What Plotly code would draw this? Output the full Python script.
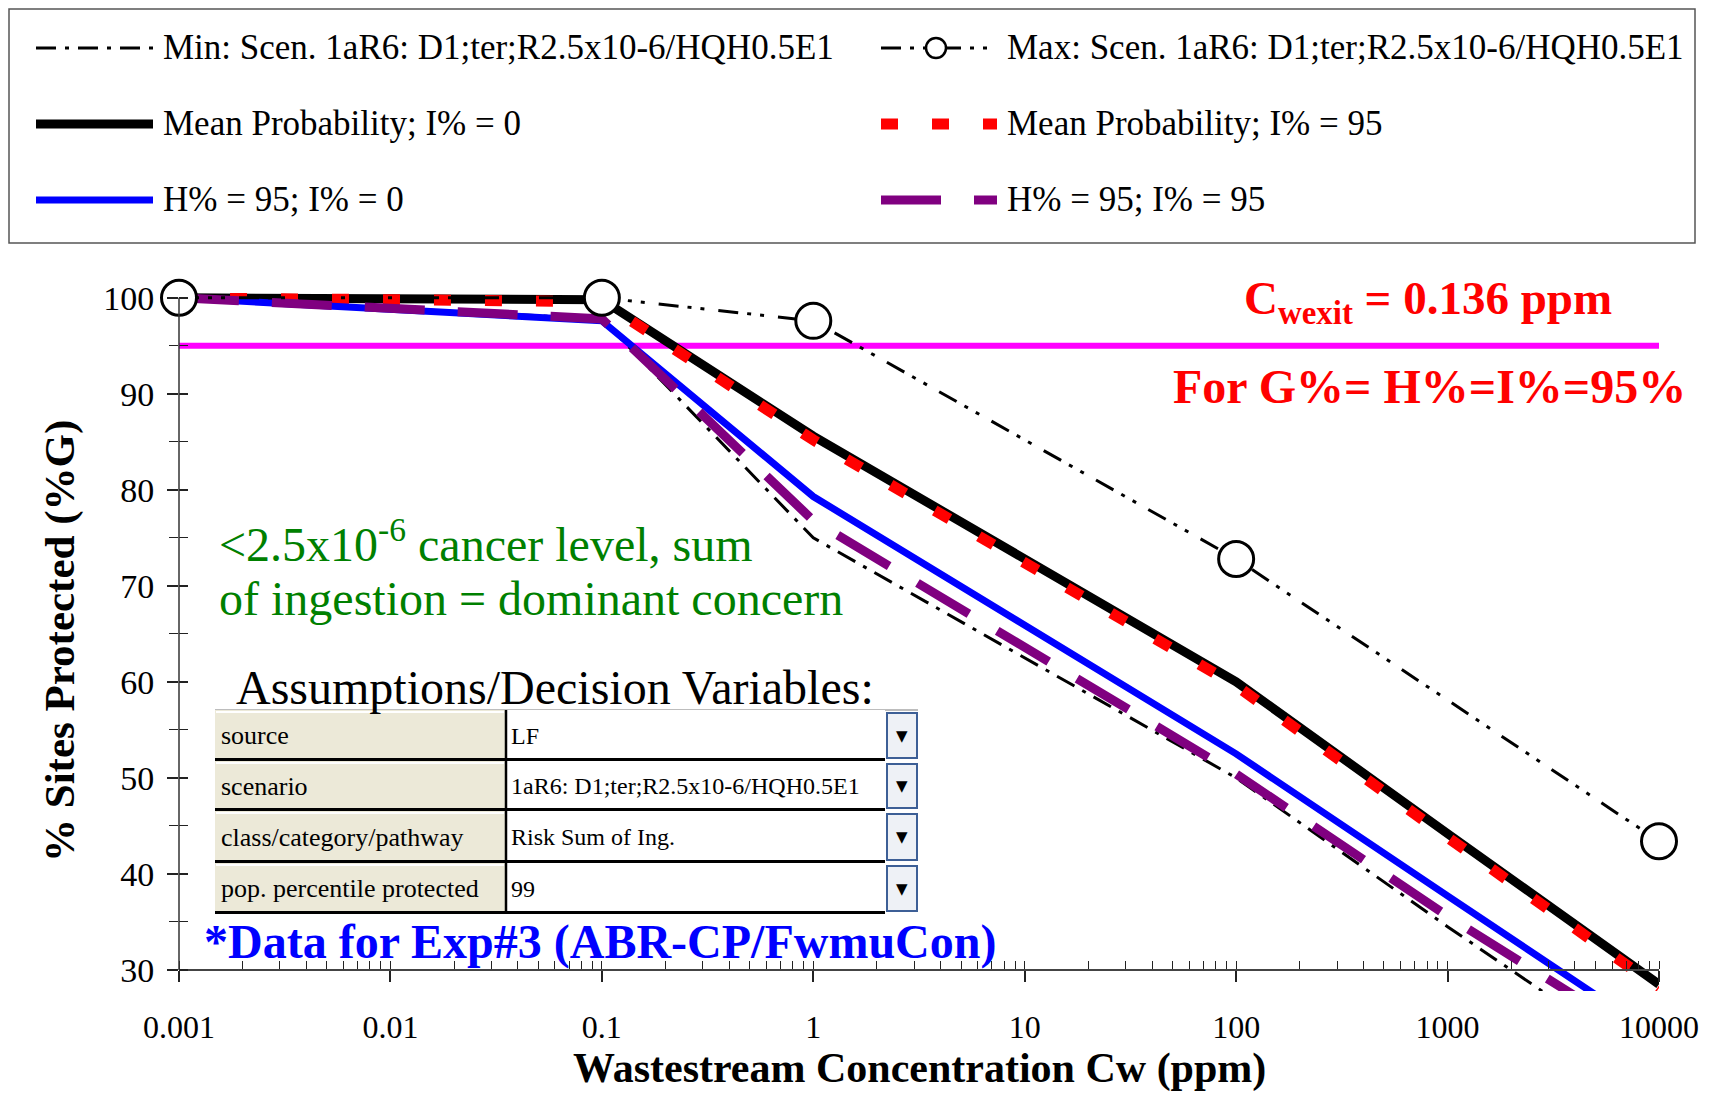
import plotly.graph_objects as go

# ---------------- data ----------------
conc = [0.001, 0.01, 0.1, 1, 10, 100, 1000, 10000]
min_scen = [100, 98.9, 97.8, 75.0, 62.5, 50.0, 34.5, 19.5]
mean_i0 = [100, 99.9, 99.8, 85.6, 72.8, 60.0, 44.2, 28.5]
mean_i95 = [100, 99.8, 99.6, 85.2, 72.4, 59.6, 43.8, 28.1]
h95_i0 = [100, 98.8, 97.6, 79.3, 65.9, 52.5, 37.7, 23.0]
h95_i95 = [100, 98.9, 97.8, 76.8, 63.6, 50.4, 35.6, 21.8]
max_conc = [0.001, 0.1, 1, 100, 10000]
max_scen = [100, 100, 97.6, 72.8, 43.4]
target_pct = 95

x_ticks = [0.001, 0.01, 0.1, 1, 10, 100, 1000, 10000]
x_tick_labels = ["0.001", "0.01", "0.1", "1", "10", "100", "1000", "10000"]
y_ticks = [30, 40, 50, 60, 70, 80, 90, 100]
y_minor = [35, 45, 55, 65, 75, 85, 95]

legend_names = [
    "Min: Scen. 1aR6: D1;ter;R2.5x10-6/HQH0.5E1",
    "Max: Scen. 1aR6: D1;ter;R2.5x10-6/HQH0.5E1",
    "Mean Probability; I% = 0",
    "Mean Probability; I% = 95",
    "H% = 95; I% = 0",
    "H% = 95; I% = 95",
]
table_labels = ["source", "scenario", "class/category/pathway", "pop. percentile protected"]
table_values = ["LF", "1aR6: D1;ter;R2.5x10-6/HQH0.5E1", "Risk Sum of Ing.", "99"]

# ---------------- geometry (page pixel coordinates) ----------------
OFF = 8                      # default body margin of the html page
W, H = 1717 - 2 * OFF, 1102 - 2 * OFF
PL, PR, PT, PB = 179, 1659, 293, 991
YMIN, YMAX = 27.8, 100.5
SERIF = "Liberation Serif"


def px(fx):
    return (fx - PL) / (PR - PL)


def py(fy):
    return (PB - fy) / (PB - PT)


STY = {
    "min": dict(color="black", width=3, dash="20px,9px,4px,9px"),
    "max": dict(color="black", width=3, dash="20px,9px,4px,9px,4px,14px"),
    "mean0": dict(color="black", width=9),
    "mean95": dict(color="#FF0000", width=11, dash="17px,34px"),
    "h0": dict(color="#0000FF", width=7),
    "h95": dict(color="#800080", width=9, dash="60px,33px"),
}

fig = go.Figure()
fig.add_trace(go.Scatter(x=[conc[0], conc[-1]], y=[target_pct, target_pct], mode="lines",
                         line=dict(color="#FF00FF", width=6), hoverinfo="skip"))
fig.add_trace(go.Scatter(x=conc, y=min_scen, mode="lines", line=STY["min"], name=legend_names[0]))
fig.add_trace(go.Scatter(x=conc, y=mean_i0, mode="lines", line=STY["mean0"], name=legend_names[2]))
fig.add_trace(go.Scatter(x=conc, y=mean_i95, mode="lines", line=STY["mean95"], name=legend_names[3]))
fig.add_trace(go.Scatter(x=conc, y=h95_i0, mode="lines", line=STY["h0"], name=legend_names[4]))
fig.add_trace(go.Scatter(x=conc, y=h95_i95, mode="lines", line=STY["h95"], name=legend_names[5]))
fig.add_trace(go.Scatter(x=max_conc, y=max_scen, mode="lines+markers", line=STY["max"],
                         marker=dict(symbol="circle", size=35, color="white",
                                     line=dict(color="black", width=3)),
                         cliponaxis=False, name=legend_names[1]))
fig.add_trace(go.Scatter(x=[None], y=[None], yaxis="y2", showlegend=False, hoverinfo="skip"))

shapes = []
ann = []

# y axis line (30..100)
shapes.append(dict(type="line", xref="paper", yref="y", x0=0, x1=0, y0=30, y1=100,
                   line=dict(color="#333333", width=1.5)))

# ---------------- legend box ----------------
shapes.append(dict(type="rect", xref="paper", yref="paper", x0=px(9), x1=px(1695), y0=py(9), y1=py(243),
                   line=dict(color="#555555", width=1.5), fillcolor="rgba(0,0,0,0)"))
rows = [48, 124, 200]
col_line = [(36, 153), (881, 997)]
col_text = [161, 1005]
leg_order = [("min", 0), ("max", 1), ("mean0", 2), ("mean95", 3), ("h0", 4), ("h95", 5)]
for k, (key, ni) in enumerate(leg_order):
    r, c = k // 2, k % 2
    y = py(rows[r])
    shapes.append(dict(type="line", xref="paper", yref="paper", x0=px(col_line[c][0]), x1=px(col_line[c][1]),
                       y0=y, y1=y, line=STY[key]))
    if key == "max":
        cx, cy, rr = 936, rows[r], 10
        shapes.append(dict(type="circle", xref="paper", yref="paper", x0=px(cx - rr), x1=px(cx + rr),
                           y0=py(cy + rr), y1=py(cy - rr), line=dict(color="black", width=2.5),
                           fillcolor="white"))
    ann.append(dict(x=px(col_text[c]), y=y, xref="paper", yref="paper", text=legend_names[ni],
                    showarrow=False, xanchor="left", yanchor="middle",
                    font=dict(family=SERIF, size=35, color="black")))

# ---------------- text annotations ----------------
ann.append(dict(x=px(1428), y=py(301), xref="paper", yref="paper", showarrow=False,
                text="<b>C<sub>wexit</sub> = 0.136 ppm</b>", xanchor="center", yanchor="middle",
                font=dict(family=SERIF, size=47, color="#FF0000")))
ann.append(dict(x=px(1429), y=py(386), xref="paper", yref="paper", showarrow=False,
                text="<b>For G%= H%=I%=95%</b>", xanchor="center", yanchor="middle",
                font=dict(family=SERIF, size=48, color="#FF0000")))
ann.append(dict(x=px(217), y=py(541), xref="paper", yref="paper", showarrow=False,
                text="&lt;2.5x10<sup>-6</sup> cancer level, sum", xanchor="left", yanchor="middle",
                font=dict(family=SERIF, size=48, color="#008000")))
ann.append(dict(x=px(217), y=py(598), xref="paper", yref="paper", showarrow=False,
                text="of ingestion = dominant concern", xanchor="left", yanchor="middle",
                font=dict(family=SERIF, size=48, color="#008000")))
ann.append(dict(x=px(234), y=py(687), xref="paper", yref="paper", showarrow=False,
                text="Assumptions/Decision Variables:", xanchor="left", yanchor="middle",
                font=dict(family=SERIF, size=48, color="black")))
ann.append(dict(x=px(202), y=py(942), xref="paper", yref="paper", showarrow=False,
                text="<b>*Data for Exp#3 (ABR-CP/FwmuCon)</b>", xanchor="left", yanchor="middle",
                font=dict(family=SERIF, size=48, color="#0000FF")))
# axis titles
ann.append(dict(x=px(919), y=py(1068), xref="paper", yref="paper", showarrow=False,
                text="<b>Wastestream Concentration Cw (ppm)</b>", xanchor="center", yanchor="middle",
                font=dict(family=SERIF, size=42, color="black")))
ann.append(dict(x=px(60), y=py(641), xref="paper", yref="paper", showarrow=False, textangle=-90,
                text="<b>% Sites Protected (%G)</b>", xanchor="center", yanchor="middle",
                font=dict(family=SERIF, size=43, color="black")))

# ---------------- table ----------------
TX0, TXC, TXD, TX1 = 215, 506, 885, 918
trow = [710, 761, 811, 863, 914]
shapes.append(dict(type="line", xref="paper", yref="paper", x0=px(TX0), x1=px(TX1), y0=py(trow[0]),
                   y1=py(trow[0]), line=dict(color="#BDBDBD", width=2)))
for i in range(4):
    y0, y1 = trow[i], trow[i + 1]
    shapes.append(dict(type="rect", xref="paper", yref="paper", x0=px(TX0), x1=px(TXC), y0=py(y1), y1=py(y0),
                       fillcolor="#ECE9D8", line=dict(width=0)))
    shapes.append(dict(type="line", xref="paper", yref="paper", x0=px(TX0 + 1), x1=px(TXC - 2),
                       y0=py(y0 + 2), y1=py(y0 + 2), line=dict(color="white", width=2)))
    shapes.append(dict(type="rect", xref="paper", yref="paper", x0=px(TXC), x1=px(TXD), y0=py(y1), y1=py(y0),
                       fillcolor="white", line=dict(width=0)))
    shapes.append(dict(type="line", xref="paper", yref="paper", x0=px(TX0), x1=px(TXD),
                       y0=py(y1 - 1.5), y1=py(y1 - 1.5), line=dict(color="black", width=3)))
    shapes.append(dict(type="line", xref="paper", yref="paper", x0=px(TXC), x1=px(TXC),
                       y0=py(y1), y1=py(y0), line=dict(color="black", width=2.5)))
    shapes.append(dict(type="rect", xref="paper", yref="paper", x0=px(TXD + 2), x1=px(TX1 - 1),
                       y0=py(y1 - 3), y1=py(y0 + 3), fillcolor="#EEF1F6",
                       line=dict(color="#3D5F96", width=2)))
    ym = py((y0 + y1) / 2)
    ann.append(dict(x=px(219), y=ym, xref="paper", yref="paper", showarrow=False, text=table_labels[i],
                    xanchor="left", yanchor="middle", font=dict(family=SERIF, size=26, color="black")))
    ann.append(dict(x=px(TXC + 3), y=ym, xref="paper", yref="paper", showarrow=False, text=table_values[i],
                    xanchor="left", yanchor="middle", font=dict(family=SERIF, size=24, color="black")))
    ann.append(dict(x=px((TXD + TX1) / 2 + 0.5), y=ym, xref="paper", yref="paper", showarrow=False, text="▼",
                    xanchor="center", yanchor="middle", font=dict(family="DejaVu Sans", size=15, color="black")))

minor_x = [k * 10.0 ** e for e in range(-3, 4) for k in range(1, 10)] + [10000]

fig.update_layout(
    width=W, height=H,
    margin=dict(l=PL - OFF, r=W - (PR - OFF), t=PT - OFF, b=H - (PB - OFF), pad=0),
    paper_bgcolor="white", plot_bgcolor="white",
    showlegend=False,
    font=dict(family=SERIF, color="black"),
    shapes=shapes, annotations=ann,
    xaxis=dict(type="log", range=[-3, 4], anchor="free", position=(30 - YMIN) / (YMAX - YMIN),
               showline=True, linecolor="#444444", linewidth=2, showgrid=False, zeroline=False,
               tickmode="array", tickvals=x_ticks, ticktext=x_tick_labels,
               ticks="outside", ticklen=11, tickwidth=1.5, tickcolor="#222222",
               ticklabelstandoff=18,
               tickfont=dict(family=SERIF, size=32, color="black"),
               minor=dict(tickmode="array", tickvals=minor_x, ticks="inside", ticklen=8,
                          tickwidth=1.2, tickcolor="#222222"),
               automargin=False),
    yaxis=dict(range=[YMIN, YMAX], showline=False, showgrid=False, zeroline=False,
               tickmode="array", tickvals=y_ticks, ticks="outside", ticklen=11, tickwidth=1.5,
               tickcolor="#222222", ticklabelstandoff=6,
               tickfont=dict(family=SERIF, size=34, color="black"),
               minor=dict(tickmode="array", tickvals=y_minor, ticks="outside", ticklen=9,
                          tickwidth=1.2, tickcolor="#222222"),
               automargin=False),
    yaxis2=dict(range=[YMIN, YMAX], overlaying="y", side="left", anchor="x", showline=False,
                showgrid=False, zeroline=False, showticklabels=False,
                tickmode="array", tickvals=y_ticks, ticks="inside", ticklen=9, tickwidth=1.5,
                tickcolor="#222222",
                minor=dict(tickmode="array", tickvals=y_minor, ticks="inside", ticklen=9,
                           tickwidth=1.2, tickcolor="#222222"),
                automargin=False),
)

fig.write_html("out.html")
